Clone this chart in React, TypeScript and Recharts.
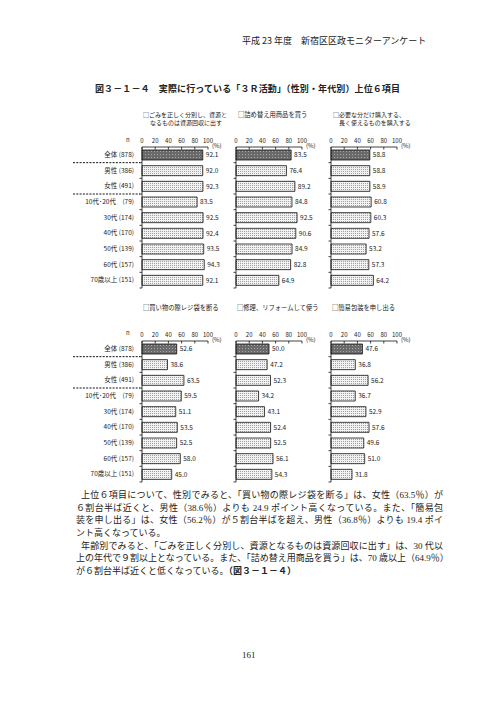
import { Bar, BarChart, Cell, LabelList, XAxis, YAxis } from "recharts";

const categories = [
  "全体 (878)",
  "男性 (386)",
  "女性 (491)",
  "10代･20代　(79)",
  "30代 (174)",
  "40代 (170)",
  "50代 (139)",
  "60代 (157)",
  "70歳以上 (151)",
];
const xTicks = [0, 20, 40, 60, 80, 100];

const sorting = [92.1, 92.0, 92.3, 83.5, 92.5, 92.4, 93.5, 94.3, 92.1];
const refill = [83.5, 76.4, 89.2, 84.8, 92.5, 90.6, 84.9, 82.8, 64.9];
const buyNeeded = [58.8, 58.8, 58.9, 60.8, 60.3, 57.6, 53.2, 57.3, 64.2];
const refuseBag = [52.6, 38.6, 63.5, 59.5, 51.1, 53.5, 52.5, 58.0, 45.0];
const repair = [50.0, 47.2, 52.3, 34.2, 43.1, 52.4, 52.5, 56.1, 54.3];
const simplePack = [47.6, 36.8, 56.2, 36.7, 52.9, 57.6, 49.6, 51.0, 31.8];

const bodyLines = [
  "上位６項目について、性別でみると、「買い物の際レジ袋を断る」は、女性（63.5％）が",
  "６割台半ば近くと、男性（38.6％）よりも 24.9 ポイント高くなっている。また、「簡易包",
  "装を申し出る」は、女性（56.2％）が５割台半ばを超え、男性（36.8％）よりも 19.4 ポイ",
  "ント高くなっている。",
  "年齢別でみると、「ごみを正しく分別し、資源となるものは資源回収に出す」は、30 代以",
  "上の年代で９割以上となっている。また、「詰め替え用商品を買う」は、70 歳以上（64.9％）",
  "が６割台半ば近くと低くなっている。",
];

const SANS = '"Noto Sans CJK JP", "Noto Sans", sans-serif';
const SERIF = '"Liberation Serif", "Noto Sans CJK JP", serif';
const PLOT_W = 66;
const PLOT_H = 141;
const BAND = PLOT_H / categories.length;

function XTick(props: any) {
  const { x, y, payload } = props;
  return (
    <g>
      <line x1={x} x2={x} y1={y} y2={y + 2.5} stroke="#111" strokeWidth={0.8} />
      <text x={x} y={y - 4} textAnchor="middle" fontSize={6} fill="#222" fontFamily={SANS}>
        {payload.value}
      </text>
    </g>
  );
}

function makeYTick(showLabels: boolean) {
  return (props: any) => {
    const { x, y, payload } = props;
    const i = categories.indexOf(payload.value);
    const sep = y + BAND / 2;
    return (
      <g>
        <line x1={x - 2.5} x2={x} y1={sep} y2={sep} stroke="#111" strokeWidth={0.8} />
        {showLabels && (
          <text x={x - 8} y={y} dy={2.3} textAnchor="end" fontSize={6.5} fill="#222" fontFamily={SANS}>
            {payload.value}
          </text>
        )}
        {showLabels && (i === 0 || i === 2) && (
          <line x1={x - 69} x2={x - 2} y1={sep} y2={sep} stroke="#111" strokeWidth={1} strokeDasharray="2 1.3" />
        )}
      </g>
    );
  };
}

function Panel({
  values,
  x0,
  axisY,
  showLabels,
}: {
  values: number[];
  x0: number;
  axisY: number;
  showLabels: boolean;
}) {
  const data = categories.map((name, i) => ({ name, value: values[i] }));
  const left = showLabels ? 70 : x0 - 6;
  const yw = x0 - left;
  return (
    <div style={{ position: "absolute", left, top: axisY - 14 }}>
      <BarChart
        width={yw + PLOT_W + 30}
        height={14 + PLOT_H + 4}
        data={data}
        layout="vertical"
        margin={{ top: 2, right: 30, left: 0, bottom: 4 }}
      >
        <XAxis
          type="number"
          orientation="top"
          domain={[0, 100]}
          ticks={xTicks}
          height={12}
          tickSize={0}
          tickMargin={0}
          tick={<XTick />}
          axisLine={{ stroke: "#111", strokeWidth: 0.8 }}
          interval={0}
        />
        <YAxis
          type="category"
          dataKey="name"
          width={yw}
          tickSize={0}
          tickMargin={0}
          tick={makeYTick(showLabels)}
          axisLine={{ stroke: "#111", strokeWidth: 0.8 }}
          interval={0}
        />
        <Bar dataKey="value" barSize={10} stroke="#111" strokeWidth={0.8} isAnimationActive={false}>
          {data.map((d, i) => (
            <Cell key={d.name} fill={i === 0 ? "url(#dotDark)" : "url(#dotLight)"} />
          ))}
          <LabelList
            dataKey="value"
            position="right"
            offset={3}
            fontSize={6.5}
            fill="#222"
            fontFamily={SANS}
            formatter={(v: any) => Number(v).toFixed(1)}
          />
        </Bar>
      </BarChart>
      <div
        style={{
          position: "absolute",
          left: yw + 70,
          top: 9,
          fontSize: 6,
          lineHeight: "7px",
          fontFamily: SANS,
          color: "#222",
          whiteSpace: "nowrap",
        }}
      >
        (%)
      </div>
    </div>
  );
}

function Txt({
  x,
  y,
  size,
  children,
  bold,
  font = SANS,
  width,
  justify,
}: {
  x: number;
  y: number;
  size: number;
  children: any;
  bold?: boolean;
  font?: string;
  width?: number;
  justify?: boolean;
}) {
  return (
    <div
      style={{
        position: "absolute",
        left: x,
        top: y - size * 0.6,
        fontSize: size,
        lineHeight: `${size * 1.2}px`,
        fontFamily: font,
        fontWeight: bold ? 700 : 400,
        color: "#222",
        whiteSpace: "nowrap",
        width,
        textAlign: justify ? "justify" : "left",
        textAlignLast: justify ? "justify" : "auto",
      }}
    >
      {children}
    </div>
  );
}

export default function App() {
  const cols = [142, 236, 331];
  return (
    <div
      style={{
        position: "absolute",
        left: 0,
        top: 0,
        width: 496,
        height: 702,
        background: "#fff",
        overflow: "hidden",
      }}
    >
      <svg width={0} height={0} style={{ position: "absolute" }}>
        <defs>
          <pattern id="dotLight" width={2} height={2} patternUnits="userSpaceOnUse">
            <rect width={2} height={2} fill="#f2f2f2" />
            <rect width={1} height={1} fill="#a0a0a0" />
          </pattern>
          <pattern id="dotDark" width={3} height={3} patternUnits="userSpaceOnUse">
            <rect width={3} height={3} fill="#6a6a6a" />
            <rect width={1} height={1} fill="#a8a8a8" />
          </pattern>
        </defs>
      </svg>

      <Txt x={242} y={41} size={9} width={183} justify>
        平成 23 年度　新宿区区政モニターアンケート
      </Txt>
      <Txt x={95} y={89} size={9} bold width={305} justify>
        図３－１－４　実際に行っている「３Ｒ活動」（性別・年代別）上位６項目
      </Txt>

      <Txt x={143} y={115} size={6}>□ごみを正しく分別し、資源と</Txt>
      <Txt x={150} y={123} size={6}>なるものは資源回収に出す</Txt>
      <Txt x={238} y={115} size={6.3}>□詰め替え用商品を買う</Txt>
      <Txt x={333} y={115} size={6}>□必要な分だけ購入する、</Txt>
      <Txt x={339} y={123} size={6}>長く使えるものを購入する</Txt>

      <Txt x={143} y={308} size={6.3}>□買い物の際レジ袋を断る</Txt>
      <Txt x={237} y={308} size={6.3}>□修理、リフォームして使う</Txt>
      <Txt x={332} y={308} size={6.3}>□簡易包装を申し出る</Txt>

      <Txt x={126} y={140} size={6}>n</Txt>
      <Txt x={126} y={333} size={6}>n</Txt>

      <Panel values={sorting} x0={cols[0]} axisY={147} showLabels />
      <Panel values={refill} x0={cols[1]} axisY={147} showLabels={false} />
      <Panel values={buyNeeded} x0={cols[2]} axisY={147} showLabels={false} />
      <Panel values={refuseBag} x0={cols[0]} axisY={341} showLabels />
      <Panel values={repair} x0={cols[1]} axisY={341} showLabels={false} />
      <Panel values={simplePack} x0={cols[2]} axisY={341} showLabels={false} />

      {bodyLines.map((line, i) => {
        const ys = [495, 508, 520.5, 533, 546, 558.5, 571];
        const indent = i === 0 || i === 4;
        const full = i !== 3 && i !== 6;
        return (
          <Txt
            key={i}
            x={indent ? 81 : 76}
            y={ys[i]}
            size={9}
            font={SERIF}
            width={full ? (indent ? 362 : 367) : undefined}
            justify={full}
          >
            {line}
            {i === 6 && <b>（図３－１－４）</b>}
          </Txt>
        );
      })}

      <Txt x={242} y={655} size={9} font={SERIF}>
        161
      </Txt>
    </div>
  );
}
